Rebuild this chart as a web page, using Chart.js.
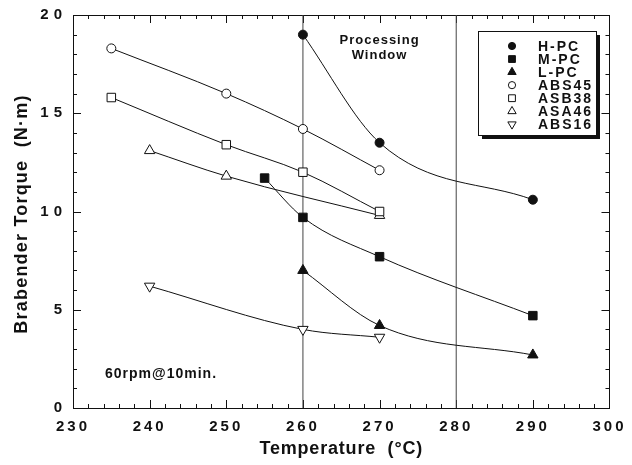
<!DOCTYPE html>
<html>
<head>
<meta charset="utf-8">
<script src="https://cdn.jsdelivr.net/npm/chart.js@4.4.0/dist/chart.umd.min.js"></script>
<style>
    html, body { margin: 0; padding: 0; background: #fff; }
    #wrap { width: 632px; height: 465px; }
</style>
</head>
<body>
<div id="wrap"><canvas id="torque_chart"></canvas></div>
<script>
// torque vs temperature for each blend
const hpcTemp = [260, 270, 290];
const hpcTorque = [19.0, 13.5, 10.6];
const mpcTemp = [255, 260, 270, 290];
const mpcTorque = [11.7, 9.7, 7.7, 4.7];
const lpcTemp = [260, 270, 290];
const lpcTorque = [7.0, 4.2, 2.7];
const abs45Temp = [235, 250, 260, 270];
const abs45Torque = [18.3, 16.0, 14.2, 12.1];
const asb38Temp = [235, 250, 260, 270];
const asb38Torque = [15.8, 13.4, 12.0, 10.0];
const asa46Temp = [240, 250, 270];
const asa46Torque = [13.1, 11.8, 9.8];
const abs16Temp = [240, 260, 270];
const abs16Torque = [6.2, 4.0, 3.6];

const seriesNames = ['H-PC', 'M-PC', 'L-PC', 'ABS45', 'ASB38', 'ASA46', 'ABS16'];
const windowTemps = [260, 280];
const xTicks = [230, 240, 250, 260, 270, 280, 290, 300];
const yTicks = [0, 5, 10, 15, 20];

const FONT = '"Liberation Sans", Arial, Helvetica, sans-serif';
const INK = '#111';

const markers = {
    'H-PC':  { style: 'circle',   radius: 4.5, fill: INK,    rot: 0 },
    'M-PC':  { style: 'rect',     radius: 6,   fill: INK,    rot: 0 },
    'L-PC':  { style: 'triangle', radius: 6,   fill: INK,    rot: 0 },
    'ABS45': { style: 'circle',   radius: 4.5, fill: '#fff', rot: 0 },
    'ASB38': { style: 'rect',     radius: 6,   fill: '#fff', rot: 0 },
    'ASA46': { style: 'triangle', radius: 6,   fill: '#fff', rot: 0 },
    'ABS16': { style: 'triangle', radius: 6,   fill: '#fff', rot: 180 }
};

function toPoints(xs, ys) {
    return xs.map((x, i) => ({ x: x, y: ys[i] }));
}

function curve(name, xs, ys) {
    const m = markers[name];
    return {
        label: name,
        data: toPoints(xs, ys),
        borderColor: INK,
        borderWidth: 1,
        cubicInterpolationMode: 'monotone',
        pointStyle: m.style,
        pointRadius: m.radius,
        pointRotation: m.rot,
        pointBackgroundColor: m.fill,
        pointBorderColor: INK,
        pointBorderWidth: 1
    };
}

// vertical bounds of the processing window
const windowSets = windowTemps.map(t => ({
    label: 'window ' + t,
    data: [{ x: t, y: 0 }, { x: t, y: 20 }],
    borderColor: '#444',
    borderWidth: 1,
    pointRadius: 0,
    tension: 0
}));

const frameAndLabels = {
    id: 'frameAndLabels',
    beforeDraw(chart) {
        chart.ctx.letterSpacing = '3px';   // x tick labels
    },
    beforeDatasetsDraw(chart) {
        const ctx = chart.ctx;
        const a = chart.chartArea;
        const xs = chart.scales.x, ys = chart.scales.y;
        ctx.save();
        ctx.strokeStyle = INK;
        ctx.lineWidth = 1;
        ctx.strokeRect(Math.round(a.left) + 0.5, Math.round(a.top) + 0.5,
            Math.round(a.right - a.left), Math.round(a.bottom - a.top));
        ctx.beginPath();
        // inward ticks on all four sides
        for (let v = 230; v <= 300; v += 2) {
            const px = Math.round(xs.getPixelForValue(v)) + 0.5;
            const len = v % 10 === 0 ? 8 : 4;
            ctx.moveTo(px, a.bottom); ctx.lineTo(px, a.bottom - len);
            ctx.moveTo(px, a.top); ctx.lineTo(px, a.top + len);
        }
        for (let v = 0; v <= 20; v += 1) {
            const py = Math.round(ys.getPixelForValue(v)) + 0.5;
            const len = v % 5 === 0 ? 8 : 4;
            ctx.moveTo(a.left, py); ctx.lineTo(a.left + len, py);
            ctx.moveTo(a.right, py); ctx.lineTo(a.right - len, py);
        }
        ctx.stroke();
        ctx.restore();
    },
    afterDatasetsDraw(chart) {
        chart.ctx.letterSpacing = '5px';   // y tick labels (ticks.z = 1)
    },
    afterDraw(chart) {
        const ctx = chart.ctx;
        const a = chart.chartArea;
        ctx.letterSpacing = '0px';
        ctx.save();
        ctx.fillStyle = INK;

        // axis titles
        ctx.font = 'bold 18px ' + FONT;
        ctx.letterSpacing = '0.8px';
        ctx.textAlign = 'center';
        ctx.textBaseline = 'middle';
        ctx.fillText('Temperature  (\u00B0C)', (a.left + a.right) / 2, 449);
        ctx.save();
        ctx.translate(22, 214);
        ctx.rotate(-Math.PI / 2);
        ctx.letterSpacing = '1.2px';
        ctx.fillText('Brabender Torque  (N\u00B7m)', 0, 0);
        ctx.restore();

        // annotations
        ctx.font = 'bold 13px ' + FONT;
        ctx.letterSpacing = '1px';
        const wx = (chart.scales.x.getPixelForValue(windowTemps[0]) + chart.scales.x.getPixelForValue(windowTemps[1])) / 2;
        ctx.fillText('Processing', wx, 40);
        ctx.fillText('Window', wx, 55);
        ctx.font = 'bold 14px ' + FONT;
        ctx.textAlign = 'left';
        ctx.fillText('60rpm@10min.', 105, 374);

        // legend box with drop shadow
        const bx = 478, by = 31, bw = 118, bh = 104;
        ctx.fillRect(bx + 4, by + 4, bw, bh);
        ctx.fillStyle = '#fff';
        ctx.fillRect(bx, by, bw, bh);
        ctx.strokeStyle = INK;
        ctx.lineWidth = 1;
        ctx.strokeRect(bx + 0.5, by + 0.5, bw, bh);
        ctx.font = 'bold 14px ' + FONT;
        ctx.letterSpacing = '2px';
        seriesNames.forEach((name, i) => {
            const m = markers[name];
            const ry = 46 + i * 13.05;
            ctx.fillStyle = m.fill;
            ctx.strokeStyle = INK;
            Chart.helpers.drawPoint(ctx, {
                pointStyle: m.style,
                radius: m.radius * 0.8,
                rotation: m.rot,
                borderWidth: 1
            }, 512, ry);
            ctx.fillStyle = INK;
            ctx.fillText(name, 538, ry + 1);
        });
        ctx.restore();
    }
};

document.addEventListener('DOMContentLoaded', () => {
    const ctx = document.getElementById('torque_chart').getContext('2d');
    new Chart(ctx, {
        type: 'line',
        data: {
            datasets: [
                curve('H-PC', hpcTemp, hpcTorque),
                curve('M-PC', mpcTemp, mpcTorque),
                curve('L-PC', lpcTemp, lpcTorque),
                curve('ABS45', abs45Temp, abs45Torque),
                curve('ASB38', asb38Temp, asb38Torque),
                curve('ASA46', asa46Temp, asa46Torque),
                curve('ABS16', abs16Temp, abs16Torque)
            ].concat(windowSets)
        },
        options: {
            responsive: true,
            maintainAspectRatio: false,
            animation: false,
            layout: { padding: { left: 0, right: 21, top: 15, bottom: 0 } },
            plugins: { legend: { display: false }, tooltip: { enabled: false } },
            scales: {
                x: {
                    type: 'linear',
                    min: 230,
                    max: 300,
                    afterBuildTicks: s => { s.ticks = xTicks.map(v => ({ value: v })); },
                    afterFit: s => { s.height = 57; },
                    grid: { display: false, drawTicks: false },
                    border: { display: false },
                    ticks: {
                        color: INK,
                        padding: 10,
                        maxRotation: 0,
                        font: { family: FONT, size: 15, weight: 'bold' }
                    }
                },
                y: {
                    type: 'linear',
                    min: 0,
                    max: 20,
                    afterBuildTicks: s => { s.ticks = yTicks.map(v => ({ value: v })); },
                    afterFit: s => { s.width = 73; },
                    grid: { display: false, drawTicks: false },
                    border: { display: false },
                    ticks: {
                        z: 1,
                        color: INK,
                        padding: 6,
                        font: { family: FONT, size: 15, weight: 'bold' }
                    }
                }
            }
        },
        plugins: [frameAndLabels]
    });
});
</script>
</body>
</html>
